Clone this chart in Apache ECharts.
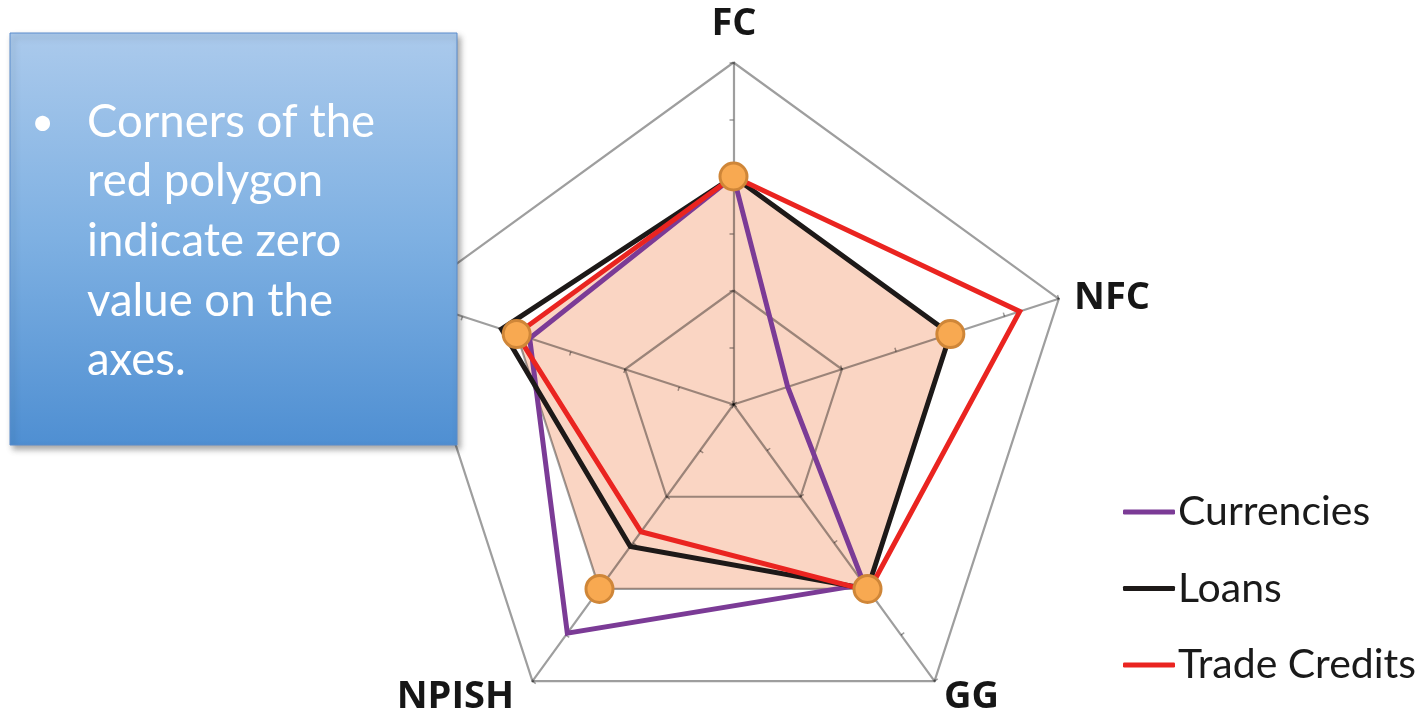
<!DOCTYPE html>
<html>
<head>
<meta charset="utf-8">
<style>
  html, body { margin: 0; padding: 0; background: #ffffff; }
  #chart { width: 1424px; height: 715px; }
</style>
<script src="https://cdn.jsdelivr.net/npm/echarts@6/dist/echarts.min.js"></script>
</head>
<body>
<div id="chart"></div>
<script>
// Sector axes, listed counter-clockwise starting from the top
const sectors = ['FC', 'HH', 'NPISH', 'GG', 'NFC'];
// Scale of every axis: centre = -2, outer ring = 1, the middle ring marks zero
const axisMin = -2;
const axisMax = 1;

const seriesNames = ['Currencies', 'Loans', 'Trade Credits'];
const currencies   = [0, -0.12, 0.48, -0.05, -1.5];
const loans        = [0, 0.14, -0.46, 0, 0];
const tradeCredits = [0, 0, -0.62, 0.02, 0.64];
// Reference polygon at zero on every axis
const zeroLine = [0, 0, 0, 0, 0];

const noteLines = ['Corners of the', 'red polygon', 'indicate zero', 'value on the', 'axes.'];

const seriesColors = ['#7b3b96', '#1d1918', '#ea2420'];

const CX = 733.5, CY = 404.5, R = 342;
const gridColor = 'rgba(0,0,0,0.38)';

const chart = echarts.init(document.getElementById('chart'), null, { renderer: 'canvas' });

const indicators = sectors.map(n => ({ name: n, min: axisMin, max: axisMax }));

const labelFont = { fontFamily: '"Open Sans", "DejaVu Sans", sans-serif', fontWeight: 'bold', fontSize: 38, fill: '#161616' };

// axis-name placement around the pentagon
const namePlacement = {
  FC:    { x: 734,  y: 24,  align: 'center' },
  NFC:   { x: 1074, y: 298, align: 'left' },
  GG:    { x: 944,  y: 697, align: 'left' },
  NPISH: { x: 514,  y: 697, align: 'right' },
  HH:    { x: 395,  y: 298, align: 'right' }
};

const graphics = [];
sectors.forEach(n => {
  const p = namePlacement[n];
  graphics.push({
    type: 'text', x: p.x, y: p.y, z: 10,
    style: Object.assign({ text: n, textAlign: p.align, textVerticalAlign: 'middle' }, labelFont)
  });
});

// note box
graphics.push({
  type: 'rect', z: 50,
  shape: { x: 10, y: 33, width: 447, height: 412 },
  style: {
    fill: new echarts.graphic.LinearGradient(0, 0, 0, 1, [
      { offset: 0, color: '#abcaec' },
      { offset: 0.5, color: '#7eb0e2' },
      { offset: 1, color: '#4f8fd2' }
    ]),
    stroke: '#5a8ccc', lineWidth: 1,
    shadowBlur: 6, shadowOffsetX: 3, shadowOffsetY: 4, shadowColor: 'rgba(0,0,0,0.35)'
  }
});
graphics.push({
  type: 'text', z: 51, x: 31, y: 123,
  style: { text: '•', fill: '#ffffff', fontFamily: 'Lato, "DejaVu Sans", sans-serif', fontSize: 40, textVerticalAlign: 'middle' }
});
graphics.push({
  type: 'text', z: 51, x: 87, y: 92,
  style: {
    text: noteLines.join('\n'), fill: '#ffffff',
    fontFamily: 'Lato, "DejaVu Sans", sans-serif', fontSize: 45.5, lineHeight: 59.7,
    textVerticalAlign: 'top'
  }
});

const option = {
  backgroundColor: '#ffffff',
  animation: false,
  legend: {
    data: seriesNames,
    orient: 'vertical',
    left: 1118,
    top: 485,
    itemWidth: 52,
    itemHeight: 5,
    itemGap: 32.5,
    icon: 'roundRect',
    textStyle: { fontFamily: 'Lato, "DejaVu Sans", sans-serif', fontSize: 41, lineHeight: 44, color: '#1a1a1a', padding: [0, 0, 0, -2] }
  },
  radar: [
    {
      // rings and spokes
      z: 2,
      center: [CX, CY],
      radius: R,
      startAngle: 90,
      shape: 'polygon',
      splitNumber: 3,
      indicator: indicators,
      axisName: { show: false },
      axisLine: { show: true, lineStyle: { color: gridColor, width: 2.2 } },
      splitLine: { show: true, lineStyle: { color: gridColor, width: 2.2 } },
      splitArea: { show: false },
      axisTick: { show: false },
      axisLabel: { show: false }
    },
    {
      // half-step tick marks along each spoke
      z: 2,
      center: [CX, CY],
      radius: R,
      startAngle: 90,
      shape: 'polygon',
      splitNumber: 6,
      indicator: indicators,
      axisName: { show: false },
      axisLine: { show: false },
      splitLine: { show: false },
      splitArea: { show: false },
      axisTick: { show: true, length: 4, lineStyle: { color: gridColor, width: 1.5 } },
      axisLabel: { show: false }
    }
  ],
  graphic: graphics,
  series: [
    {
      type: 'radar', radarIndex: 0, z: 1, name: 'zero',
      symbol: 'none',
      lineStyle: { width: 0, opacity: 0 },
      areaStyle: { color: '#fad5c3', opacity: 1 },
      data: [{ value: zeroLine }]
    },
    {
      type: 'radar', radarIndex: 0, z: 3, name: seriesNames[0],
      symbol: 'none',
      itemStyle: { color: seriesColors[0] },
      lineStyle: { color: seriesColors[0], width: 5, join: 'miter' },
      data: [{ value: currencies, name: seriesNames[0] }]
    },
    {
      type: 'radar', radarIndex: 0, z: 3, name: seriesNames[1],
      symbol: 'none',
      itemStyle: { color: seriesColors[1] },
      lineStyle: { color: seriesColors[1], width: 5, join: 'miter' },
      data: [{ value: loans, name: seriesNames[1] }]
    },
    {
      type: 'radar', radarIndex: 0, z: 3, name: seriesNames[2],
      symbol: 'none',
      itemStyle: { color: seriesColors[2] },
      lineStyle: { color: seriesColors[2], width: 5, join: 'miter' },
      data: [{ value: tradeCredits, name: seriesNames[2] }]
    },
    {
      type: 'radar', radarIndex: 0, z: 4, name: 'zero markers',
      symbol: 'circle', symbolSize: 27,
      itemStyle: { color: '#f8a951', borderColor: '#cf8638', borderWidth: 3 },
      lineStyle: { width: 0, opacity: 0 },
      data: [{ value: zeroLine }]
    }
  ]
};

chart.setOption(option);
</script>
</body>
</html>
